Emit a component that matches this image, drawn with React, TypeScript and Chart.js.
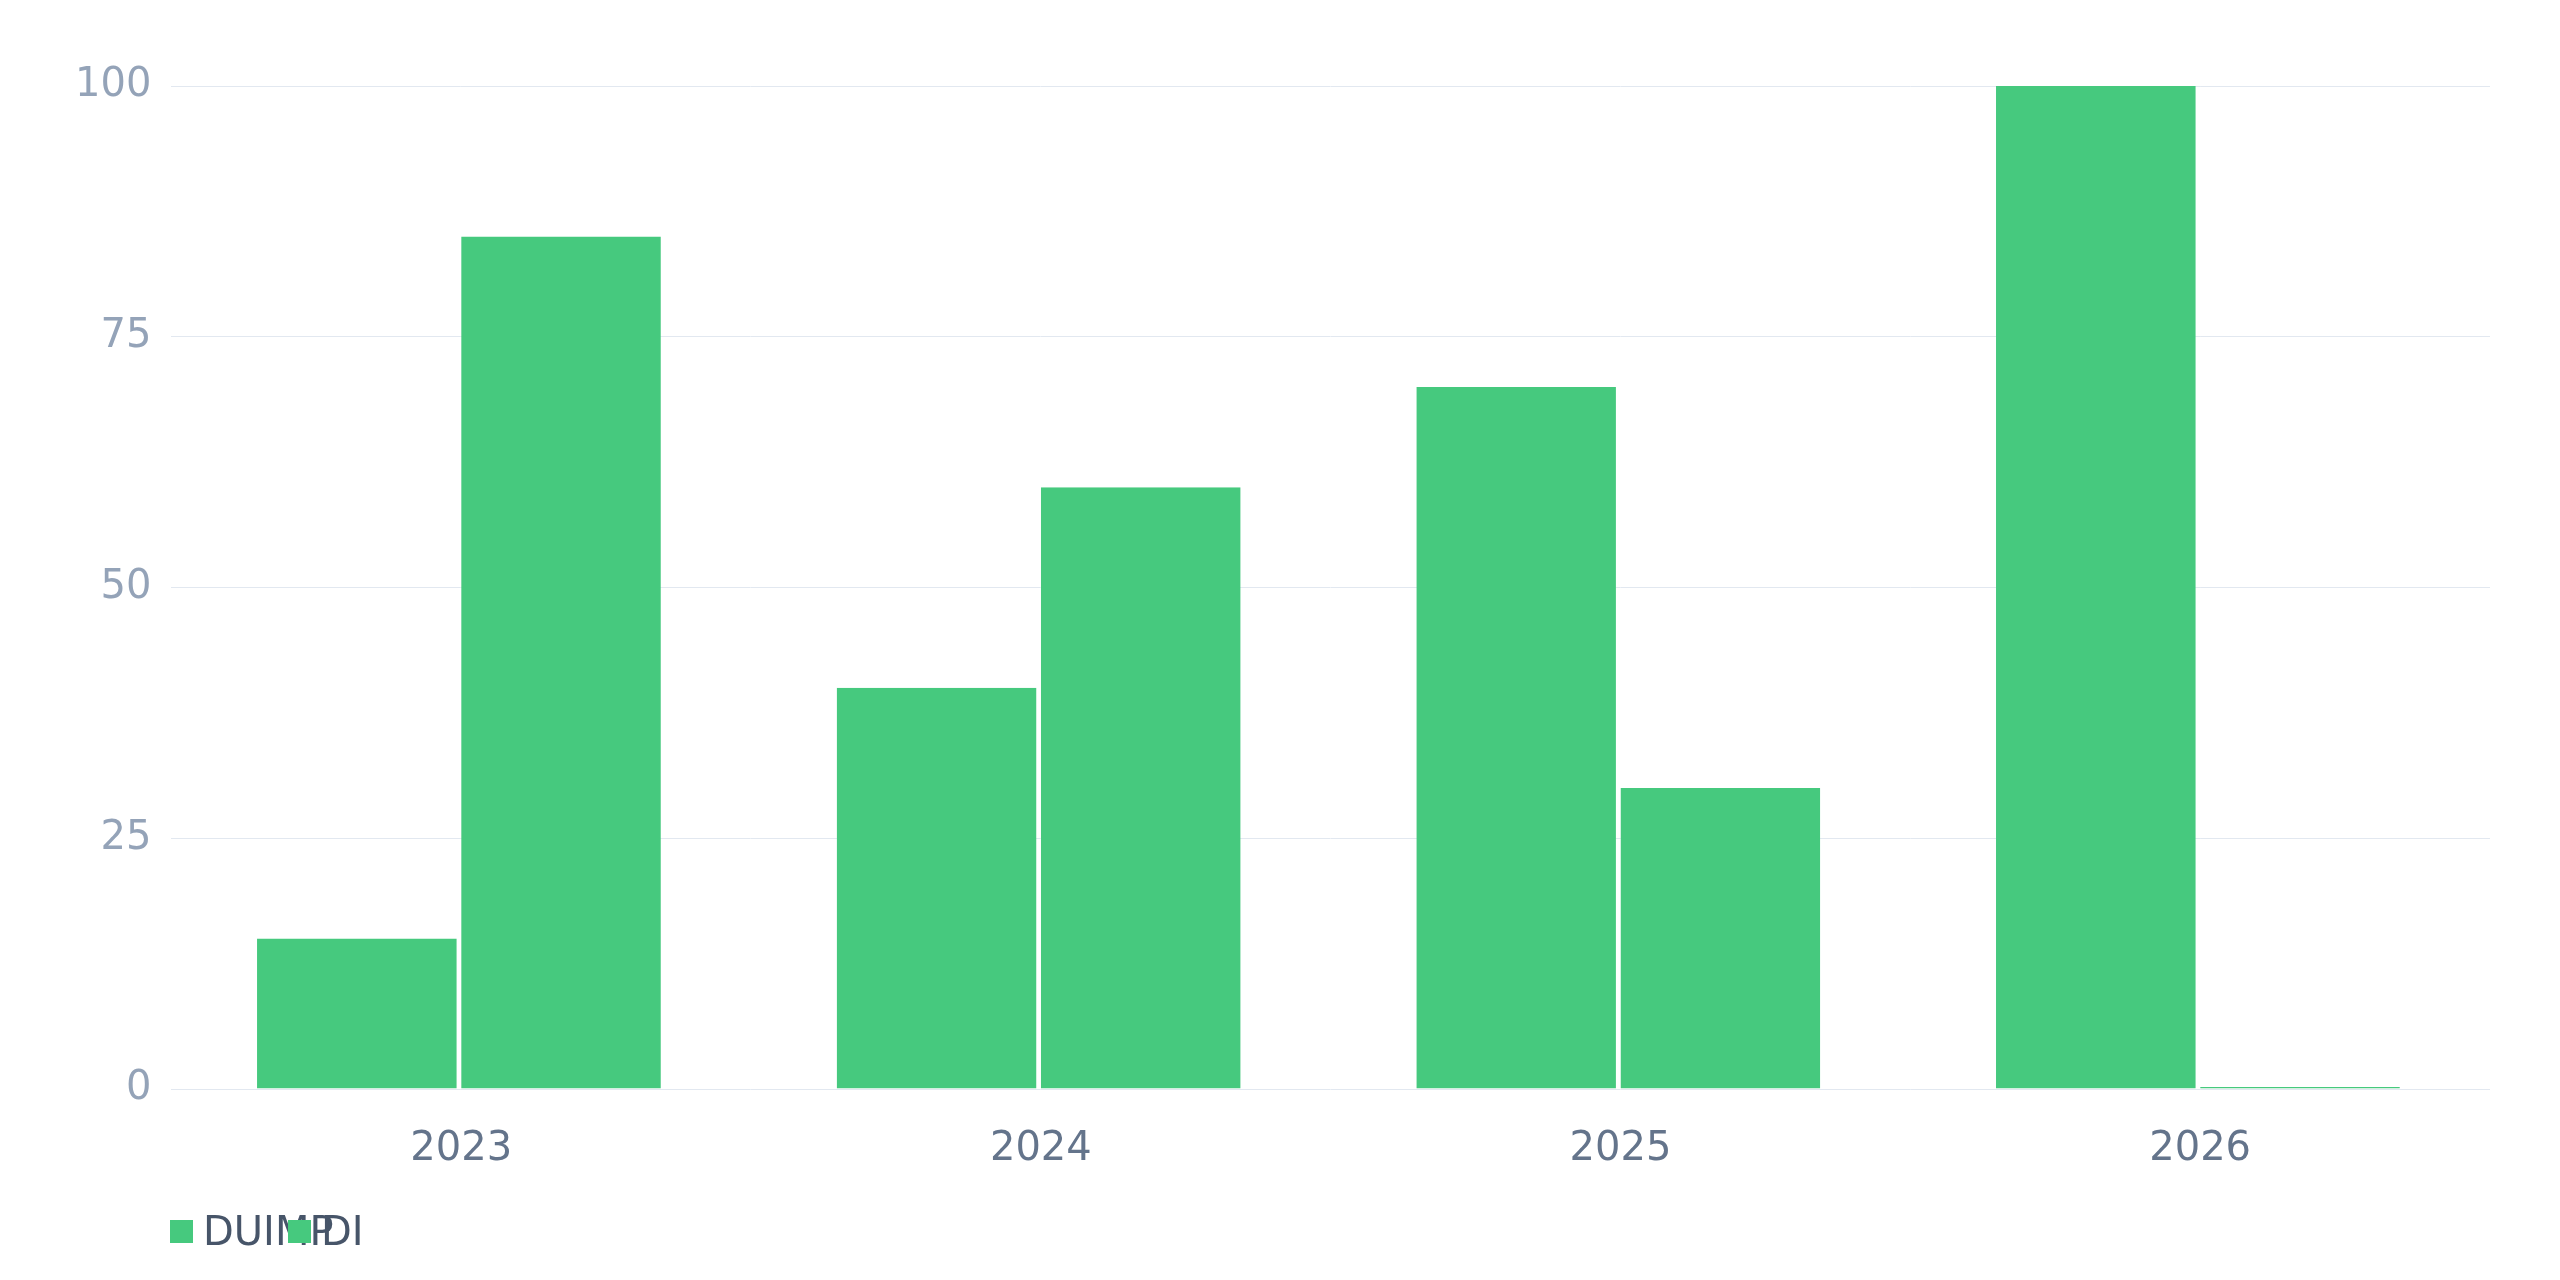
import React, { useEffect, useRef } from 'react';
import { Chart, registerables } from 'chart.js';

Chart.register(...registerables);

const years = ['2023', '2024', '2025', '2026'];
const seriesNames = ['DUIMP', 'DI'];
const duimpValues = [15, 40, 70, 100];
const diValues = [85, 60, 30, 0];
const yTickValues = [0, 25, 50, 75, 100];

const barGreen = '#46c97e';
const fontFamily = '"DejaVu Sans", sans-serif';

// the gap between the two bars of a year sits on the right of each bar
const barGap = { top: 0, right: 4.6, bottom: 0, left: 0 };

export default function App() {
    const canvasRef = useRef<HTMLCanvasElement>(null);
    const chartInstance = useRef<Chart | null>(null);

    useEffect(() => {
        document.body.style.margin = '0';
        if (!canvasRef.current) return;

        if (chartInstance.current) {
            chartInstance.current.destroy();
        }

        chartInstance.current = new Chart(canvasRef.current, {
            type: 'bar',
            data: {
                labels: years,
                datasets: [
                    {
                        label: seriesNames[0],
                        data: duimpValues,
                        backgroundColor: barGreen,
                        borderColor: 'rgba(0, 0, 0, 0)',
                        borderWidth: barGap,
                    },
                    {
                        label: seriesNames[1],
                        data: diValues,
                        backgroundColor: barGreen,
                        borderColor: 'rgba(0, 0, 0, 0)',
                        borderWidth: barGap,
                    },
                ],
            },
            options: {
                animation: false,
                responsive: true,
                maintainAspectRatio: false,
                layout: { padding: { left: 55, right: 70, top: 86, bottom: 0 } },
                datasets: {
                    bar: {
                        categoryPercentage: 0.7044,
                        barPercentage: 1,
                        inflateAmount: 0,
                        minBarLength: 2,
                    },
                },
                plugins: {
                    legend: { display: false },
                    tooltip: { enabled: false },
                },
                scales: {
                    x: {
                        grid: { display: false, drawTicks: false },
                        border: { display: false },
                        ticks: {
                            color: '#64748b',
                            padding: 37,
                            font: { family: fontFamily, size: 40 },
                        },
                    },
                    y: {
                        min: 0,
                        max: 100,
                        afterBuildTicks: (axis) => {
                            axis.ticks = yTickValues.map((v) => ({ value: v }));
                        },
                        grid: { color: '#e2e8f0', lineWidth: 1, drawTicks: false },
                        border: { display: false },
                        ticks: {
                            color: '#94a3b8',
                            padding: 20,
                            font: { family: fontFamily, size: 40 },
                        },
                    },
                },
            },
        });

        return () => {
            if (chartInstance.current) {
                chartInstance.current.destroy();
                chartInstance.current = null;
            }
        };
    }, []);

    return (
        <div style={{ position: 'relative', width: 2560, height: 1280, background: '#fff', fontFamily }}>
            <div style={{ width: 2560, height: 1211 }}>
                <canvas ref={canvasRef} />
            </div>
            {/* fixed-width legend items, long names run into the next one */}
            <div style={{ position: 'absolute', left: 170, top: 1208, height: 46, display: 'flex', alignItems: 'center' }}>
                {seriesNames.map((name) => (
                    <div key={name} style={{ width: 118, display: 'flex', alignItems: 'center', whiteSpace: 'nowrap' }}>
                        <span style={{ width: 23, height: 23, background: barGreen, flexShrink: 0, marginRight: 10 }} />
                        <span style={{ fontSize: 40, color: '#475569', lineHeight: '46px' }}>{name}</span>
                    </div>
                ))}
            </div>
        </div>
    );
}
